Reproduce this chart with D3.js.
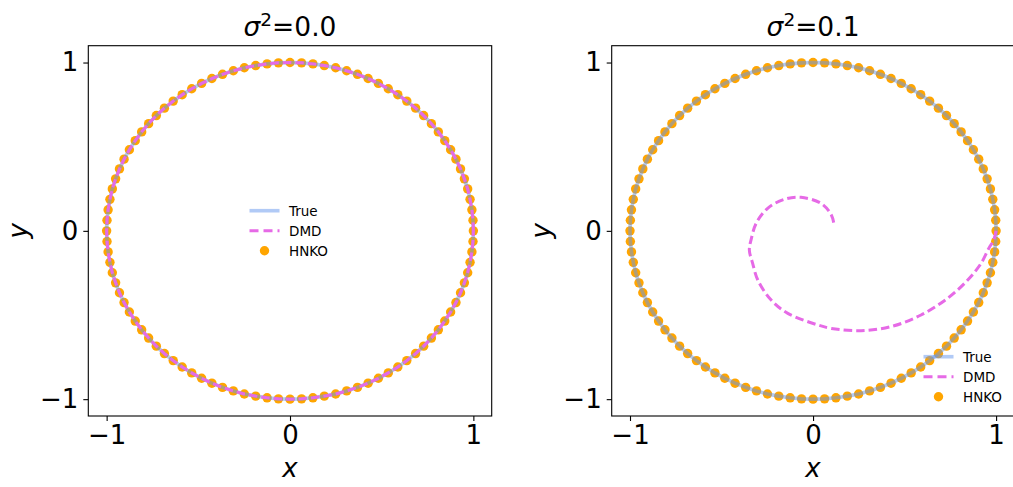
<!DOCTYPE html>
<meta charset="utf-8">
<style>
body { margin: 0; background: #fff; }
text { font-family: "DejaVu Sans", sans-serif; fill: #000; }
</style>
<svg width="1013" height="487"></svg>
<script src="https://d3js.org/d3.v7.min.js"></script>
<script>
// noise level shown in each title
const sigmas = ["0.0", "0.1"];

// trajectory on the unit circle (True and HNKO)
const circleX = [1.000, 0.998, 0.992, 0.982, 0.969, 0.951, 0.930, 0.905, 0.876, 0.844, 0.809, 0.771, 0.729, 0.685, 0.637, 0.588, 0.536, 0.482, 0.426, 0.368, 0.309, 0.249, 0.187, 0.125, 0.063, 0.000,
  -0.063, -0.125, -0.187, -0.249, -0.309, -0.368, -0.426, -0.482, -0.536, -0.588, -0.637, -0.685, -0.729, -0.771, -0.809, -0.844, -0.876, -0.905, -0.930, -0.951, -0.969, -0.982, -0.992, -0.998, -1.000,
  -0.998, -0.992, -0.982, -0.969, -0.951, -0.930, -0.905, -0.876, -0.844, -0.809, -0.771, -0.729, -0.685, -0.637, -0.588, -0.536, -0.482, -0.426, -0.368, -0.309, -0.249, -0.187, -0.125, -0.063, 0.000,
  0.063, 0.125, 0.187, 0.249, 0.309, 0.368, 0.426, 0.482, 0.536, 0.588, 0.637, 0.685, 0.729, 0.771, 0.809, 0.844, 0.876, 0.905, 0.930, 0.951, 0.969, 0.982, 0.992, 0.998];
const circleY = [0.000, 0.063, 0.125, 0.187, 0.249, 0.309, 0.368, 0.426, 0.482, 0.536, 0.588, 0.637, 0.685, 0.729, 0.771, 0.809, 0.844, 0.876, 0.905, 0.930, 0.951, 0.969, 0.982, 0.992, 0.998, 1.000,
  0.998, 0.992, 0.982, 0.969, 0.951, 0.930, 0.905, 0.876, 0.844, 0.809, 0.771, 0.729, 0.685, 0.637, 0.588, 0.536, 0.482, 0.426, 0.368, 0.309, 0.249, 0.187, 0.125, 0.063, 0.000,
  -0.063, -0.125, -0.187, -0.249, -0.309, -0.368, -0.426, -0.482, -0.536, -0.588, -0.637, -0.685, -0.729, -0.771, -0.809, -0.844, -0.876, -0.905, -0.930, -0.951, -0.969, -0.982, -0.992, -0.998, -1.000,
  -0.998, -0.992, -0.982, -0.969, -0.951, -0.930, -0.905, -0.876, -0.844, -0.809, -0.771, -0.729, -0.685, -0.637, -0.588, -0.536, -0.482, -0.426, -0.368, -0.309, -0.249, -0.187, -0.125, -0.063];

// DMD prediction with noise: decaying spiral
const spiralX = [1.000, 0.985, 0.962, 0.918, 0.845, 0.736, 0.590, 0.426, 0.262, 0.100, 0.026, -0.138, -0.230, -0.302, -0.330, -0.348, -0.339, -0.311, -0.248, -0.157, -0.066, 0.044, 0.100, 0.117];
const spiralY = [0.000, -0.060, -0.100, -0.193, -0.292, -0.400, -0.500, -0.569, -0.593, -0.580, -0.559, -0.490, -0.410, -0.292, -0.193, -0.114, -0.055, 0.044, 0.134, 0.187, 0.199, 0.163, 0.094, 0.024];

const tickValues = [-1, 0, 1];
const legendLabels = ["True", "DMD", "HNKO"];

var svg = d3.select("svg");
var plotTop = 45.7, plotBottom = 416;

var panels = [
  {left: 88.3, right: 491.7, sigma: sigmas[0], dmdX: circleX, dmdY: circleY, closed: true, legend: [249.5, 210.7]},
  {left: 611.7, right: 1014.4, sigma: sigmas[1], dmdX: spiralX, dmdY: spiralY, closed: false, legend: [923.5, 356.7]}
];

var trueColor = "#6495ed", dmdColor = "#e66ae6", hnkoColor = "#ffa500";

panels.forEach(function(p, pi) {
  var x = d3.scaleLinear().domain([-1.1, 1.1]).range([p.left, p.right]);
  var y = d3.scaleLinear().domain([-1.1, 1.1]).range([plotBottom, plotTop]);
  var g = svg.append("g");

  g.append("clipPath").attr("id", "clip" + pi)
    .append("rect")
    .attr("x", p.left).attr("y", plotTop)
    .attr("width", p.right - p.left).attr("height", plotBottom - plotTop);

  var inner = g.append("g").attr("clip-path", "url(#clip" + pi + ")");
  var pts = circleX.map(function(d, i) { return [d, circleY[i]]; });
  var dmdPts = p.dmdX.map(function(d, i) { return [d, p.dmdY[i]]; });

  inner.selectAll(".dot")
    .data(pts)
    .enter().append("circle")
    .attr("class", "dot")
    .attr("cx", function(d) { return x(d[0]); })
    .attr("cy", function(d) { return y(d[1]); })
    .attr("r", 4.7)
    .attr("fill", hnkoColor);

  inner.append("path")
    .attr("d", d3.line().x(function(d) { return x(d[0]); }).y(function(d) { return y(d[1]); }).curve(d3.curveLinearClosed)(pts))
    .attr("fill", "none")
    .attr("stroke", trueColor)
    .attr("stroke-opacity", 0.5)
    .attr("stroke-width", 3.6);

  inner.append("path")
    .attr("d", d3.line().x(function(d) { return x(d[0]); }).y(function(d) { return y(d[1]); })
      .curve(p.closed ? d3.curveLinearClosed : d3.curveCatmullRom)(dmdPts))
    .attr("fill", "none")
    .attr("stroke", dmdColor)
    .attr("stroke-width", 3)
    .attr("stroke-dasharray", "8.5,4");

  // axes
  var ax = g.append("g")
    .attr("transform", "translate(0," + plotBottom + ")")
    .call(d3.axisBottom(x).tickValues(tickValues).tickSize(5).tickPadding(5).tickFormat(d3.format("d")));
  var ay = g.append("g")
    .attr("transform", "translate(" + p.left + ",0)")
    .call(d3.axisLeft(y).tickValues(tickValues).tickSize(5).tickPadding(5).tickFormat(d3.format("d")));
  [ax, ay].forEach(function(a) {
    a.select(".domain").remove();
    a.selectAll("line").attr("stroke", "#000").attr("stroke-width", 1.1);
    a.selectAll("text").attr("font-size", 26).attr("font-family", "DejaVu Sans");
  });

  g.append("rect")
    .attr("x", p.left).attr("y", plotTop)
    .attr("width", p.right - p.left).attr("height", plotBottom - plotTop)
    .attr("fill", "none").attr("stroke", "#000").attr("stroke-width", 1.1);

  // title
  var cx = (p.left + p.right) / 2;
  var t = g.append("text")
    .attr("x", cx).attr("y", 36)
    .attr("text-anchor", "middle")
    .attr("font-size", 26.5);
  t.append("tspan").attr("font-style", "italic").text("σ");
  t.append("tspan").attr("font-size", 18.5).attr("dy", -10).text("2");
  t.append("tspan").attr("dy", 10).text("=" + p.sigma);

  // axis labels
  g.append("text")
    .attr("x", cx).attr("y", 477)
    .attr("text-anchor", "middle")
    .attr("font-size", 26).attr("font-style", "italic")
    .text("x");
  g.append("text")
    .attr("transform", "translate(" + (p.left - 61.3) + "," + y(0) + ") rotate(-90)")
    .attr("text-anchor", "middle")
    .attr("font-size", 26).attr("font-style", "italic")
    .text("y");

  // legend
  var lg = g.append("g").attr("transform", "translate(" + p.legend[0] + "," + p.legend[1] + ")");
  lg.append("line").attr("x1", 0).attr("x2", 30).attr("y1", 0).attr("y2", 0)
    .attr("stroke", trueColor).attr("stroke-opacity", 0.5).attr("stroke-width", 3.6);
  lg.append("line").attr("x1", 0).attr("x2", 30).attr("y1", 20).attr("y2", 20)
    .attr("stroke", dmdColor).attr("stroke-width", 3).attr("stroke-dasharray", "9,5");
  lg.append("circle").attr("cx", 15).attr("cy", 40).attr("r", 4.7).attr("fill", hnkoColor);
  lg.selectAll(".lab")
    .data(legendLabels)
    .enter().append("text")
    .attr("class", "lab")
    .attr("x", 39.5)
    .attr("y", function(d, i) { return i * 20; })
    .attr("dy", "0.36em")
    .attr("font-size", 13.5)
    .text(function(d) { return d; });
});
</script>
